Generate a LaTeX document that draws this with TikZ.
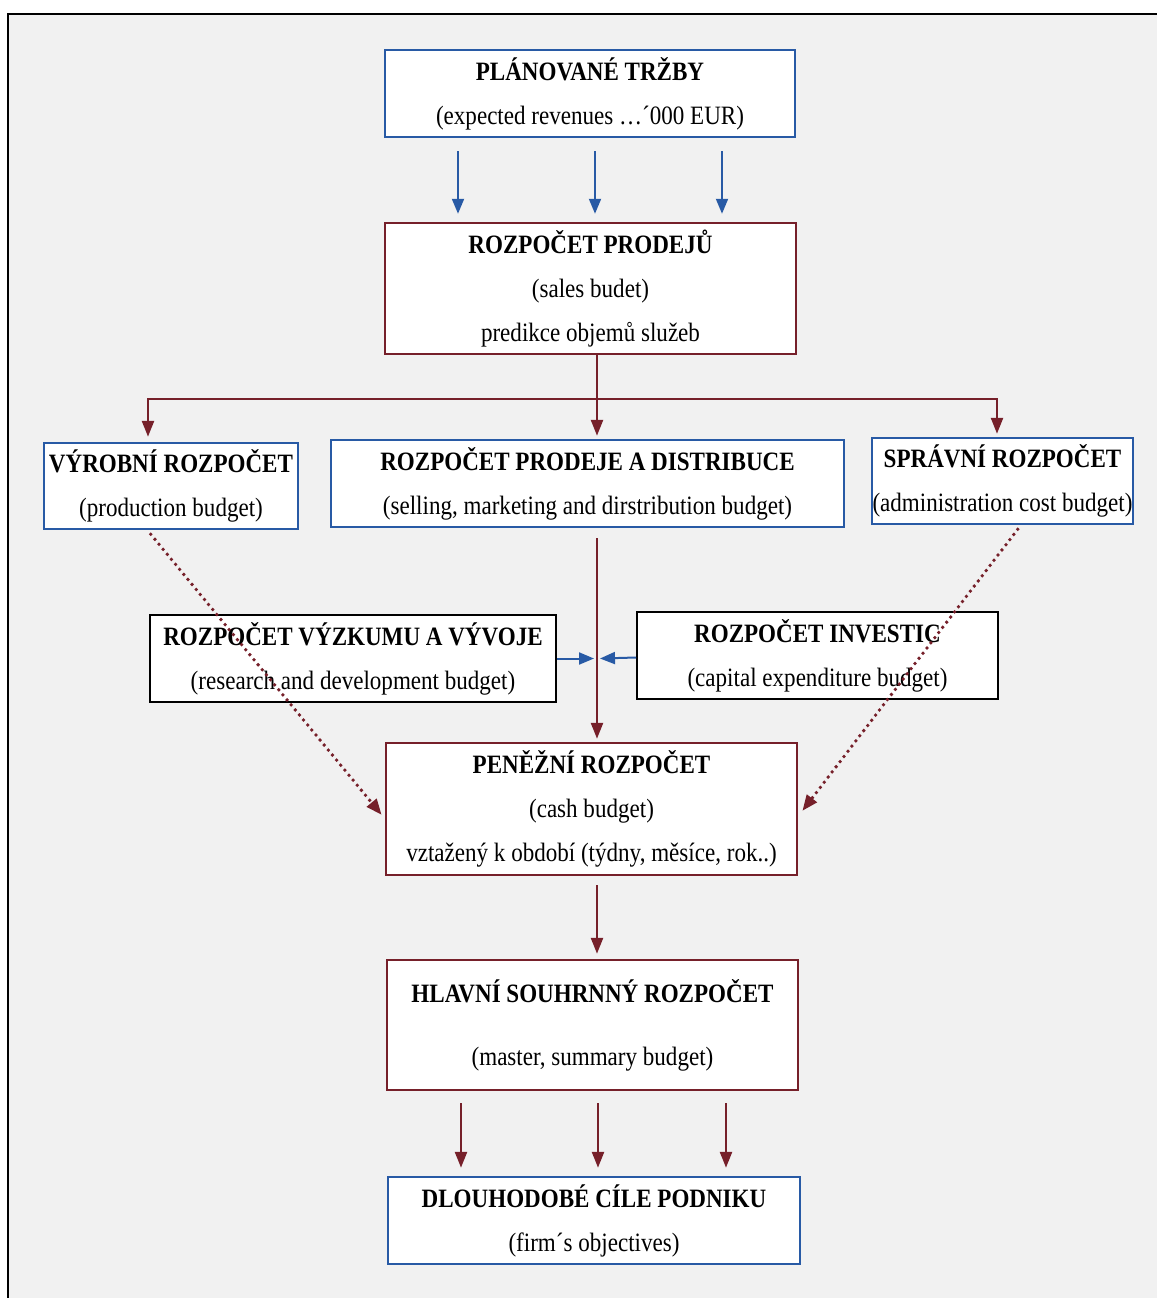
\documentclass[tikz,border=0pt]{standalone}
\usepackage{fontspec}
\setmainfont[FakeStretch=0.87]{Liberation Serif}
\usetikzlibrary{arrows.meta,calc}
\definecolor{bbl}{RGB}{40,90,165}
\definecolor{mrn}{RGB}{118,32,42}
\definecolor{bgc}{RGB}{241,241,241}
\begin{document}
\begin{tikzpicture}[x=1pt,y=-1pt,
  box/.style={draw, line width=2.5pt, fill=white, inner sep=0pt, align=center,
    font=\fontsize{26.5}{44}\selectfont},
  bbox/.style={box, draw=bbl},
  rbox/.style={box, draw=mrn},
  kbox/.style={box, draw=black, line width=2pt},
  barrow/.style={draw=bbl, line width=2pt, -{Triangle[width=12pt,length=15pt]}},
  rarrow/.style={draw=mrn, line width=2.5pt, -{Triangle[width=12pt,length=16pt]}},
  dotarrow/.style={draw=mrn, line width=3.8pt, line cap=round, dash pattern=on 0pt off 6.5pt,
    -{Triangle[width=12pt,length=16pt]}}
]
\useasboundingbox (0,0) rectangle (1157,1298);
\fill[bgc] (8,14) rectangle (1157,1298);
\draw[line width=2pt] (8,1298) -- (8,14) -- (1157,14);

\node[bbox, minimum width=410pt, minimum height=87pt] (plan) at (590,93.5)
  {\textbf{PLÁNOVANÉ TRŽBY}\\(expected revenues …´000 EUR)};
\node[rbox, minimum width=411pt, minimum height=131pt] (prod) at (590.5,288.5)
  {\textbf{ROZPOČET PRODEJŮ}\\(sales budet)\\predikce objemů služeb};
\node[bbox, minimum width=254pt, minimum height=86pt] (vyr) at (171,486)
  {\textbf{VÝROBNÍ ROZPOČET}\\(production budget)};
\node[bbox, minimum width=513pt, minimum height=87pt] (dist) at (587.5,483.5)
  {\textbf{ROZPOČET PRODEJE A DISTRIBUCE}\\(selling, marketing and dirstribution budget)};
\node[bbox, minimum width=261pt, minimum height=86pt] (spr) at (1002.5,481)
  {\textbf{SPRÁVNÍ ROZPOČET}\\(administration cost budget)};
\node[kbox, minimum width=406pt, minimum height=87pt] (rnd) at (353,658.5)
  {\textbf{ROZPOČET VÝZKUMU A VÝVOJE}\\(research and development budget)};
\node[kbox, minimum width=361pt, minimum height=87pt] (inv) at (817.5,655.5)
  {\textbf{ROZPOČET INVESTIC}\\(capital expenditure budget)};
\node[rbox, minimum width=411pt, minimum height=132pt] (pen) at (591.5,809)
  {\textbf{PENĚŽNÍ ROZPOČET}\\(cash budget)\\vztažený k období (týdny, měsíce, rok..)};
\node[rbox, minimum width=411pt, minimum height=130pt] (hl) at (592.5,1025)
  {\textbf{HLAVNÍ SOUHRNNÝ ROZPOČET}\\[19pt](master, summary budget)};
\node[bbox, minimum width=412pt, minimum height=87pt] (dl) at (594,1220.5)
  {\textbf{DLOUHODOBÉ CÍLE PODNIKU}\\(firm´s objectives)};

% plan -> prod
\foreach \xx in {458,595,722}{
  \coordinate (c) at (\xx,0);
  \draw[barrow] ($(plan.south -| c)+(0,13)$) -- ($(prod.north -| c)+(0,-8)$);
}

% prod -> three budgets
\coordinate (cx) at (597,0);
\coordinate (j) at (597,399);
\draw[rarrow] (prod.south -| cx) -- ($(dist.north -| cx)+(0,-3)$);
\draw[rarrow] (j) -| ($(vyr.north)+(-23,-5)$);
\draw[rarrow] (j) -| ($(spr.north)+(-5.5,-3)$);

% dist -> pen
\draw[rarrow] ($(dist.south -| cx)+(0,10)$) -- ($(pen.north -| cx)+(0,-3)$);
\draw[barrow] (rnd.east) -- ($(rnd.east -| cx)+(-3,0)$);
\draw[barrow] ($(inv.west)+(0,2)$) -- ($(rnd.east -| cx)+(3,0)$);

% dotted
\draw[dotarrow] ($(vyr.south west)+(108,4)$) -- ($(pen.west)+(-3,6)$);
\draw[dotarrow] ($(spr.south west)+(147,4)$) -- ($(pen.east)+(4,2)$);

% pen -> hl
\draw[rarrow] ($(pen.south -| cx)+(0,9)$) -- ($(hl.north -| cx)+(0,-5)$);

% hl -> dl
\foreach \xx in {461,598,726}{
  \coordinate (d) at (\xx,0);
  \draw[rarrow] ($(hl.south -| d)+(0,12)$) -- ($(dl.north -| d)+(0,-8)$);
}
\end{tikzpicture}
\end{document}
